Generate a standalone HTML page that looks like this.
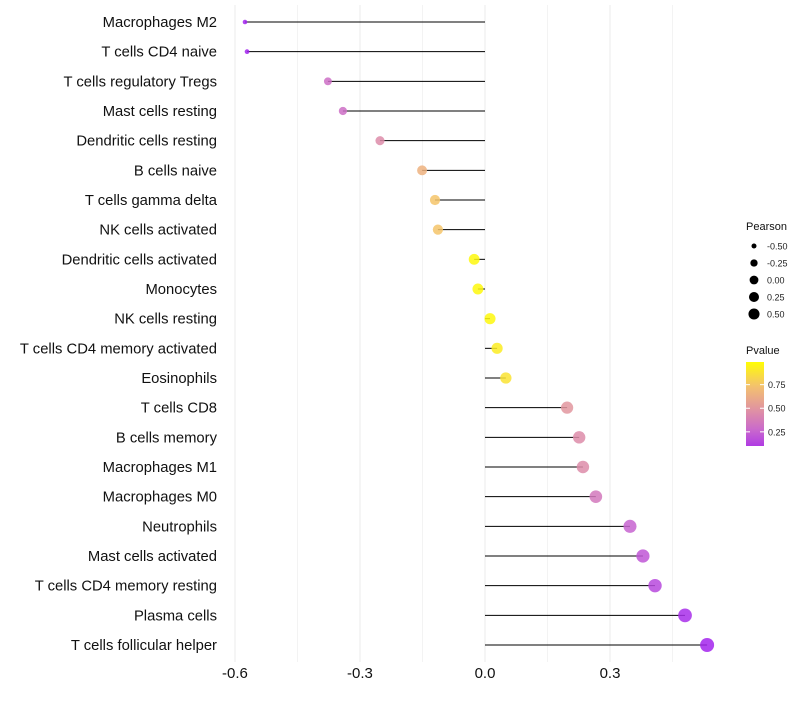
<!DOCTYPE html>
<html><head><meta charset="utf-8"><style>
body{margin:0;background:#fff;font-family:"Liberation Sans",sans-serif}
</style></head><body>
<svg id="chart" width="800" height="700" xmlns="http://www.w3.org/2000/svg"></svg>
<script>
const categories=["Macrophages M2","T cells CD4 naive","T cells regulatory  Tregs ","Mast cells resting","Dendritic cells resting","B cells naive","T cells gamma delta","NK cells activated","Dendritic cells activated","Monocytes","NK cells resting","T cells CD4 memory activated","Eosinophils","T cells CD8","B cells memory","Macrophages M1","Macrophages M0","Neutrophils","Mast cells activated","T cells CD4 memory resting","Plasma cells","T cells follicular helper"];
const pearson=[-0.576,-0.571,-0.377,-0.341,-0.252,-0.151,-0.12,-0.113,-0.026,-0.017,0.012,0.029,0.05,0.197,0.226,0.235,0.266,0.348,0.379,0.408,0.48,0.533];
const pvalue=[0.01,0.01,0.3,0.3,0.45,0.65,0.75,0.75,0.97,0.97,0.97,0.92,0.88,0.5,0.45,0.45,0.35,0.25,0.2,0.15,0.05,0.02];
const xTicks=[-0.6,-0.3,0.0,0.3];
const xTickLabels=["-0.6","-0.3","0.0","0.3"];
const xMinor=[-0.45,-0.15,0.15,0.45];
const sizeLegend=[-0.5,-0.25,0,0.25,0.5];
const sizeLegendLabels=["-0.50","-0.25","0.00","0.25","0.50"];
const pLegend=[0.75,0.5,0.25];

const NS="http://www.w3.org/2000/svg";
const svg=document.getElementById('chart');
const x=v=>485+v*416.7;
const y=i=>22+i*(623/21);
const r=v=>1.5+5.5*Math.sqrt(Math.max(0,(v+0.6)/1.13));
function col(p){const st=[[0,[160,32,240]],[0.25,[199,100,208]],[0.5,[226,150,159]],[0.75,[244,196,106]],[1,[255,255,0]]];
 for(let k=0;k<st.length-1;k++){if(p<=st[k+1][0]){const t=(p-st[k][0])/(st[k+1][0]-st[k][0]);const a=st[k][1],b=st[k+1][1];return `rgb(${a.map((c,j)=>Math.round(c+(b[j]-c)*t)).join(',')})`;}}return 'rgb(255,255,0)';}
function el(tag,attrs){const e=document.createElementNS(NS,tag);for(const k in attrs)e.setAttribute(k,attrs[k]);svg.appendChild(e);return e;}
xMinor.forEach(v=>{const g=el('line',{x1:x(v),x2:x(v),y1:5,y2:662,stroke:'#f3f3f3','stroke-width':1});

});
xTicks.forEach((v,i)=>{const g=el('line',{x1:x(v),x2:x(v),y1:5,y2:662,stroke:'#ebebeb','stroke-width':1});


const t=el('text',{x:x(v),y:678,'text-anchor':'middle','font-size':15,fill:'#111'});t.textContent=xTickLabels[i];

});
categories.forEach((c,i)=>{
 const t=el('text',{x:217,y:y(i)+5,'text-anchor':'end','font-size':14.8,fill:'#111'});t.textContent=c;
 
 
 const s=el('line',{x1:x(0),x2:x(pearson[i]),y1:y(i),y2:y(i),stroke:'#000','stroke-width':1});
 
 
 const d=el('circle',{cx:x(pearson[i]),cy:y(i),r:r(pearson[i]),fill:col(pvalue[i]),'fill-opacity':0.85});
 
 
});
const lt=el('text',{x:746,y:230,'font-size':11,fill:'#111'});lt.textContent='Pearson';


sizeLegend.forEach((v,i)=>{const cy=246+i*17;
 const c=el('circle',{cx:754,cy:cy,r:r(v)*0.8,fill:'#000'});
 
 
 const t=el('text',{x:767,y:cy+3.5,'font-size':9,fill:'#222'});t.textContent=sizeLegendLabels[i];
 
 });
const pt=el('text',{x:746,y:354,'font-size':11,fill:'#111'});pt.textContent='Pvalue';


const defs=el('defs',{});const lg=document.createElementNS(NS,'linearGradient');lg.setAttribute('id','pg');lg.setAttribute('x1',0);lg.setAttribute('y1',1);lg.setAttribute('x2',0);lg.setAttribute('y2',0);defs.appendChild(lg);
const barTop=362,barBot=446,pv=p=>barBot-(p-0.1)/(0.99-0.1)*(barBot-barTop);
for(let k=0;k<=10;k++){const p=0.1+k*0.089;const s=document.createElementNS(NS,'stop');s.setAttribute('offset',k/10);s.setAttribute('stop-color',col(p));lg.appendChild(s);}
const bar=el('rect',{x:746,y:barTop,width:18,height:barBot-barTop,fill:'url(#pg)'});


pLegend.forEach(p=>{const t=el('text',{x:768,y:pv(p)+3.5,'font-size':9,fill:'#222'});t.textContent=p.toFixed(2);
 
 
 el('line',{x1:746,x2:750,y1:pv(p),y2:pv(p),stroke:'#fff','stroke-width':1});el('line',{x1:760,x2:764,y1:pv(p),y2:pv(p),stroke:'#fff','stroke-width':1});});
</script>
</body></html>
